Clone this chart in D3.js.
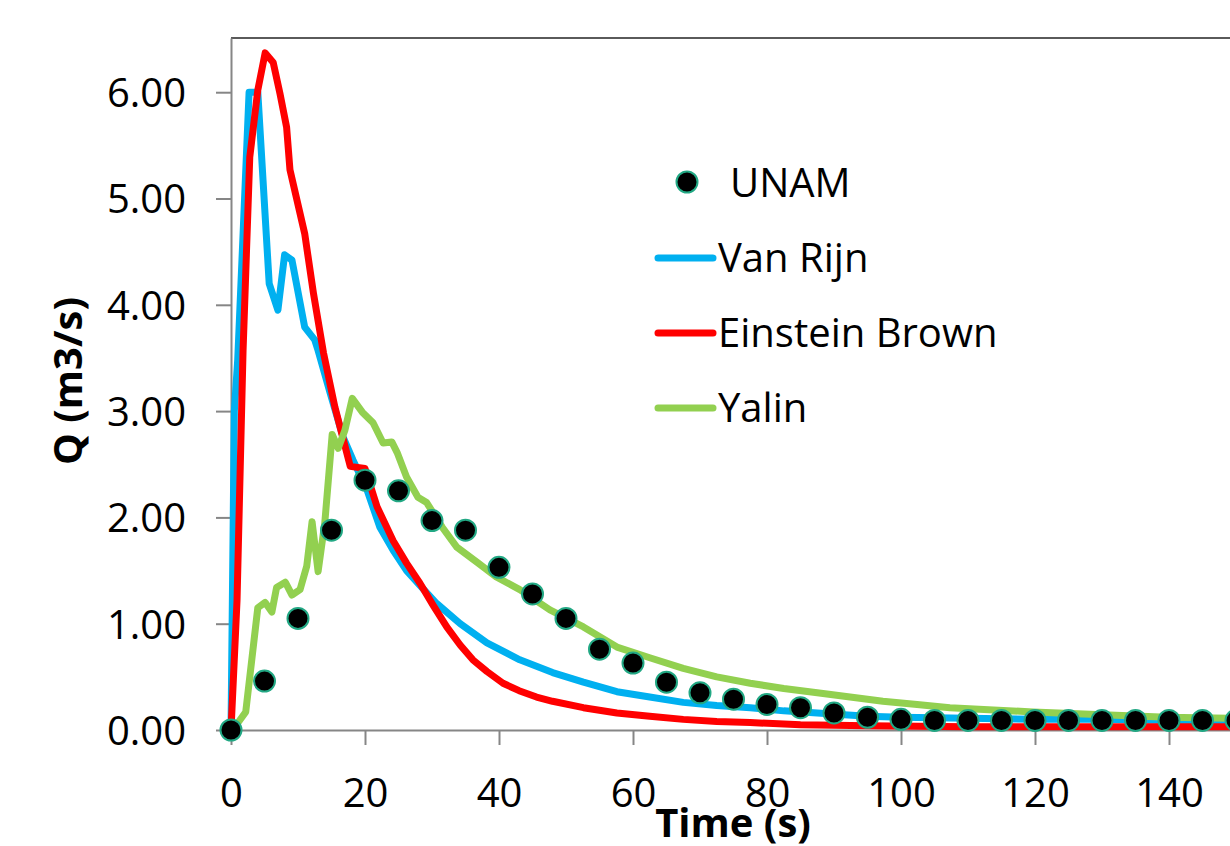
<!DOCTYPE html>
<html>
<head>
<meta charset="utf-8">
<script src="https://cdn.jsdelivr.net/npm/d3@7"></script>
<style>
  html, body { margin: 0; padding: 0; background: #fff; }
  svg { display: block; }
  text { font-family: "Open Sans", "Lato", sans-serif; fill: #000; }
</style>
</head>
<body>
<svg id="chart" width="1230" height="846"></svg>
<script>
// ---------------- data ----------------
const unamTime = [0,5,10,15,20,25,30,35,40,45,50,55,60,65,70,75,80,85,90,95,100,105,110,115,120,125,130,135,140,145,150];
const unamQ    = [0,0.46,1.05,1.88,2.35,2.25,1.97,1.88,1.53,1.28,1.05,0.76,0.63,0.45,0.35,0.29,0.24,0.21,0.16,0.12,0.10,0.09,0.09,0.09,0.09,0.09,0.09,0.09,0.09,0.09,0.09];

const vanRijnTime = [0,0.5,1,2.7,4,5.7,7,8,9.1,11,12.5,13,14.8,16.7,18.2,20.3,22.2,24.2,26.2,28.2,30.7,34.2,38.2,43.1,48,52.6,57.6,62.5,67.5,72.5,77.5,82.5,87.5,95,100,110,120,130,140,150];
const vanRijnQ    = [0,3.0,3.48,6.0,6.0,4.2,3.95,4.47,4.42,3.79,3.67,3.57,3.17,2.76,2.54,2.26,1.91,1.69,1.5,1.36,1.19,1.0,0.82,0.66,0.54,0.45,0.36,0.31,0.26,0.23,0.21,0.18,0.16,0.13,0.12,0.11,0.10,0.10,0.09,0.09];

const einsteinTime = [0,0.9,1.8,2.8,4,5.1,6.3,7.3,8.3,8.8,11,12.3,13.8,15.5,17.8,20,21.8,24.2,26.2,28.2,30.2,32.2,34.2,36.1,38.2,40.6,43,45.6,48,52.6,57.6,62.5,67.5,72.5,77.5,85,95,110,130,150];
const einsteinQ    = [0,1.22,3.57,5.39,6.02,6.37,6.28,5.99,5.67,5.27,4.67,4.11,3.55,3.04,2.48,2.46,2.1,1.78,1.57,1.38,1.17,0.97,0.8,0.66,0.55,0.44,0.37,0.31,0.27,0.21,0.16,0.13,0.10,0.08,0.07,0.05,0.04,0.03,0.03,0.03];

const yalinTime = [0,0.6,2.2,4.0,5.1,6.1,6.8,8.1,9.1,10.3,11.3,12.1,13,14,15.1,16,17,18.1,19.6,21.2,22.7,24,24.8,26.2,27.9,29.2,31.5,33.7,36.9,39.6,43.1,47.6,52.6,57.6,62.5,67.5,72.5,77.5,82.5,87.5,92.4,97.3,102.4,107.3,119.7,139.7,150];
const yalinQ    = [0,0.03,0.17,1.15,1.2,1.11,1.34,1.39,1.27,1.32,1.54,1.96,1.49,1.95,2.78,2.65,2.82,3.12,2.99,2.89,2.70,2.71,2.61,2.38,2.19,2.14,1.91,1.72,1.57,1.44,1.32,1.13,0.97,0.78,0.68,0.58,0.50,0.44,0.39,0.35,0.31,0.27,0.24,0.21,0.17,0.12,0.11];

const xTicks = [0,20,40,60,80,100,120,140];
const yTicks = [0,1,2,3,4,5,6];
const legendNames = ["UNAM","Van Rijn","Einstein Brown","Yalin"];
const axisTitleX = "Time (s)";
const axisTitleY = "Q (m3/s)";

// ---------------- drawing ----------------
const svg = d3.select("#chart");
svg.append("rect").attr("width",1230).attr("height",846).attr("fill","#fff");

const x = d3.scaleLinear().domain([0,150]).range([231,1236]);
const y = d3.scaleLinear().domain([0,6.51]).range([730,38]);

const axisColor = "#868686";

// top border
svg.append("line").attr("x1",x(0)).attr("x2",1230).attr("y1",y(6.51)).attr("y2",y(6.51))
  .attr("stroke","#5a5a5a").attr("stroke-width",2);

// y axis
const gy = svg.append("g").attr("transform",`translate(${x(0)},0)`)
  .call(d3.axisLeft(y).tickValues(yTicks).tickFormat(d3.format(".2f")).tickSize(15).tickSizeOuter(0).tickPadding(30));
gy.select(".domain").attr("stroke",axisColor).attr("stroke-width",2);
gy.selectAll(".tick line").attr("stroke",axisColor).attr("stroke-width",2);
gy.selectAll(".tick text").attr("font-size",40).attr("font-family","'Open Sans', sans-serif").attr("fill","#000").attr("dy","0.36em");

// x axis
const gx = svg.append("g").attr("transform",`translate(0,${y(0)})`)
  .call(d3.axisBottom(x).tickValues(xTicks).tickFormat(d3.format("d")).tickSize(15).tickSizeOuter(0).tickPadding(0));
gx.select(".domain").attr("stroke",axisColor).attr("stroke-width",2);
gx.selectAll(".tick line").attr("stroke",axisColor).attr("stroke-width",2);
gx.selectAll(".tick text").attr("font-size",40).attr("font-family","'Open Sans', sans-serif").attr("fill","#000")
  .attr("dy",null).attr("y",77);

// lines
const line = d3.line().x(d => x(d[0])).y(d => y(d[1]));
const series = [
  {t: vanRijnTime, v: vanRijnQ, color: "#00B0F0"},
  {t: einsteinTime, v: einsteinQ, color: "#FF0000"},
  {t: yalinTime, v: yalinQ, color: "#92D050"}
];
series.forEach(s => {
  svg.append("path")
    .datum(s.t.map((t,i) => [t, s.v[i]]))
    .attr("d", line)
    .attr("fill","none")
    .attr("stroke", s.color)
    .attr("stroke-width",7)
    .attr("stroke-linejoin","round")
    .attr("stroke-linecap","round");
});

// UNAM markers
svg.append("g").selectAll("circle")
  .data(unamTime.map((t,i) => [t, unamQ[i]]))
  .join("circle")
  .attr("cx", d => x(d[0]))
  .attr("cy", d => y(d[1]))
  .attr("r", 10.5)
  .attr("fill","#000")
  .attr("stroke","#22a884")
  .attr("stroke-width",2);

// axis titles
svg.append("text").attr("x",733).attr("y",837).attr("text-anchor","middle")
  .attr("font-size",40).attr("font-weight","bold").text(axisTitleX);
svg.append("text").attr("transform","translate(82,381) rotate(-90)").attr("text-anchor","middle")
  .attr("font-size",40).attr("font-weight","bold").text(axisTitleY);

// legend
const leg = svg.append("g");
leg.append("circle").attr("cx",687).attr("cy",182).attr("r",10.5)
  .attr("fill","#000").attr("stroke","#22a884").attr("stroke-width",2);
leg.append("text").attr("x",730).attr("y",197).attr("font-size",40).text(legendNames[0]);
const legColors = ["#00B0F0","#FF0000","#92D050"];
[1,2,3].forEach((k,i) => {
  const ly = 258 + i*75;
  leg.append("line").attr("x1",658).attr("x2",713).attr("y1",ly).attr("y2",ly)
    .attr("stroke",legColors[i]).attr("stroke-width",7).attr("stroke-linecap","round");
  leg.append("text").attr("x",718).attr("y",ly+14).attr("font-size",40).text(legendNames[k]);
});
</script>
</body>
</html>
